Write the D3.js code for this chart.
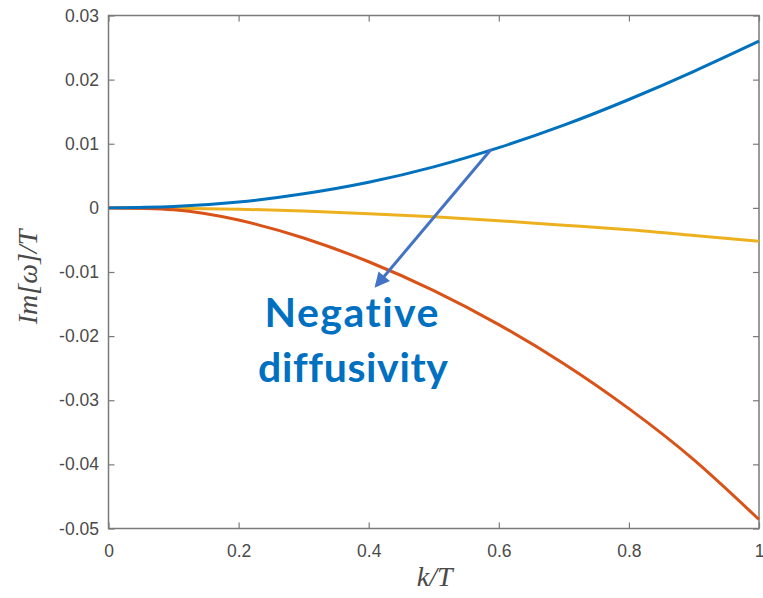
<!DOCTYPE html>
<html>
<head>
<meta charset="utf-8">
<script src="https://cdn.jsdelivr.net/npm/d3@7/dist/d3.min.js"></script>
<style>
  html, body { margin: 0; padding: 0; background: #fff; }
  svg { display: block; }
</style>
</head>
<body>
<script>
// ---- data ----
const kValues = [0, 0.1, 0.2, 0.3, 0.4, 0.5, 0.6, 0.7, 0.8, 0.9, 1.0];
const blueValues = [0, 0.0002, 0.0009, 0.0022, 0.0040, 0.0064, 0.0094, 0.0129, 0.0169, 0.0213, 0.0260];
const yellowValues = [0, -0.00005, -0.0002, -0.0005, -0.0009, -0.0014, -0.0020, -0.0027, -0.0034, -0.0043, -0.0052];
const redValues = [0, -0.0003, -0.0019, -0.0047, -0.0084, -0.0129, -0.0182, -0.0243, -0.0313, -0.0393, -0.0486];
const xTicks = [0, 0.2, 0.4, 0.6, 0.8, 1];
const xTickLabels = ["0", "0.2", "0.4", "0.6", "0.8", "1"];
const yTicks = [0.03, 0.02, 0.01, 0, -0.01, -0.02, -0.03, -0.04, -0.05];
const yTickLabels = ["0.03", "0.02", "0.01", "0", "-0.01", "-0.02", "-0.03", "-0.04", "-0.05"];
const annotationLines = ["Negative", "diffusivity"];
const arrowFrom = {k: 0.588, v: 0.0091};
const arrowTo = {k: 0.412, v: -0.0121};

const W = 763, H = 598;
const m = {left: 108.5, right: 4, top: 15.5, bottom: 69.5};

const svg = d3.select("body").append("svg").attr("width", W).attr("height", H);

const x = d3.scaleLinear().domain([0, 1]).range([m.left, W - m.right]);
const y = d3.scaleLinear().domain([-0.05, 0.03]).range([H - m.bottom, m.top]);

const axisColor = "#7a7a7a";
const labelColor = "#4a4a4a";

// frame
svg.append("rect")
  .attr("x", x(0)).attr("y", y(0.03))
  .attr("width", x(1) - x(0)).attr("height", y(-0.05) - y(0.03))
  .attr("fill", "none").attr("stroke", axisColor).attr("stroke-width", 1.5);

function styleAxis(g) {
  g.select(".domain").remove();
  g.selectAll(".tick line").attr("stroke", axisColor).attr("stroke-width", 1.2);
  g.selectAll(".tick text").attr("fill", labelColor)
    .style("font-family", "'Liberation Sans', Arial, Helvetica, sans-serif")
    .style("font-size", "17.5px");
}

svg.append("g").attr("transform", `translate(0,${y(-0.05)})`)
  .call(d3.axisBottom(x).tickValues(xTicks).tickSize(-6).tickPadding(16)
    .tickFormat((d, i) => xTickLabels[i]))
  .call(styleAxis);
svg.append("g").attr("transform", `translate(0,${y(0.03)})`)
  .call(d3.axisTop(x).tickValues(xTicks).tickSize(-6).tickFormat(""))
  .call(styleAxis);
svg.append("g").attr("transform", `translate(${x(0)},0)`)
  .call(d3.axisLeft(y).tickValues(yTicks).tickSize(-6).tickPadding(9.5)
    .tickFormat((d, i) => yTickLabels[i]))
  .call(styleAxis);
svg.append("g").attr("transform", `translate(${x(1)},0)`)
  .call(d3.axisRight(y).tickValues(yTicks).tickSize(-6).tickFormat(""))
  .call(styleAxis);

// axis labels
svg.append("text")
  .attr("x", x(0.5) + 1).attr("y", 586)
  .attr("text-anchor", "middle")
  .attr("fill", labelColor)
  .style("font-family", "'Liberation Serif', 'DejaVu Serif', serif")
  .style("font-style", "italic")
  .style("font-size", "28px")
  .text("k/T");

svg.append("text")
  .attr("transform", `translate(37,${277}) rotate(-90)`)
  .attr("text-anchor", "middle")
  .attr("fill", labelColor)
  .style("font-family", "'Liberation Serif', 'DejaVu Serif', serif")
  .style("font-style", "italic")
  .style("font-size", "28px")
  .text("Im[ω]/T");

// lines
const line = d3.line().x(d => x(d[0])).y(d => y(d[1])).curve(d3.curveNatural);
const series = [
  {vals: yellowValues, color: "#EDB120"},
  {vals: redValues, color: "#D95319"},
  {vals: blueValues, color: "#0072BD"}
];
series.forEach(s => {
  svg.append("path")
    .datum(kValues.map((k, i) => [k, s.vals[i]]))
    .attr("d", line)
    .attr("fill", "none")
    .attr("stroke", s.color)
    .attr("stroke-width", 3)
    .attr("stroke-linejoin", "round");
});

// annotation arrow
const defs = svg.append("defs");
defs.append("marker")
  .attr("id", "arrowhead")
  .attr("viewBox", "0 0 10 10")
  .attr("refX", 8).attr("refY", 5)
  .attr("markerWidth", 5.5).attr("markerHeight", 5)
  .attr("orient", "auto")
  .attr("markerUnits", "strokeWidth")
  .append("path").attr("d", "M0,0 L10,5 L0,10 Z").attr("fill", "#4472C4");

svg.append("line")
  .attr("x1", x(arrowFrom.k)).attr("y1", y(arrowFrom.v))
  .attr("x2", x(arrowTo.k)).attr("y2", y(arrowTo.v))
  .attr("stroke", "#4472C4").attr("stroke-width", 3)
  .attr("marker-end", "url(#arrowhead)");

const txt = svg.append("text")
  .attr("fill", "#0070C0")
  .attr("text-anchor", "middle")
  .style("font-family", "Lato, 'Open Sans', sans-serif")
  .style("font-weight", "bold")
  .style("font-variant-ligatures", "none")
  .style("font-size", "41px");
txt.append("tspan").attr("x", 351.5).attr("y", 327)
  .attr("textLength", 174).text(annotationLines[0]);
txt.append("tspan").attr("x", 353).attr("y", 382)
  .attr("textLength", 190).text(annotationLines[1]);
</script>
</body>
</html>
